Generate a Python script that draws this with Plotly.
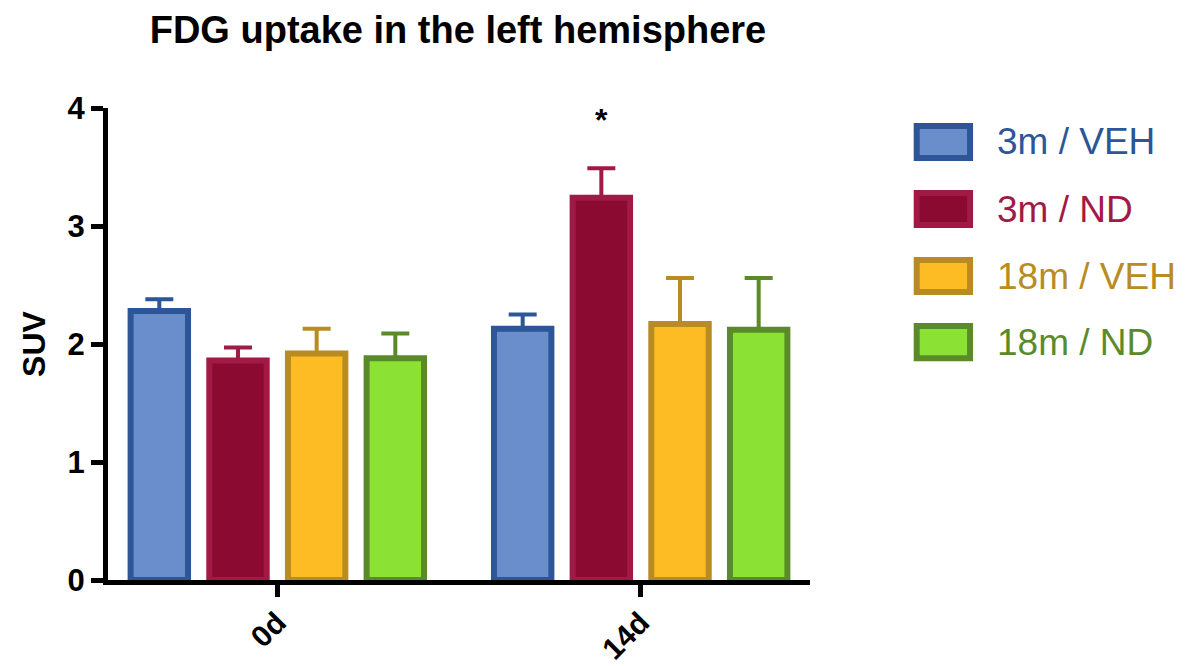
import plotly.graph_objects as go

categories = ["0d", "14d"]
series_names = ["3m / VEH", "3m / ND", "18m / VEH", "18m / ND"]
means = {
    "3m / VEH": [2.28, 2.13],
    "3m / ND": [1.86, 3.24],
    "18m / VEH": [1.92, 2.17],
    "18m / ND": [1.88, 2.12],
}
errors = {
    "3m / VEH": [0.10, 0.12],
    "3m / ND": [0.11, 0.25],
    "18m / VEH": [0.21, 0.39],
    "18m / ND": [0.21, 0.44],
}
fill_colors = ["#6A8DCB", "#8A0A32", "#FDBB24", "#8BE235"]
line_colors = ["#2C5697", "#A01A45", "#B88C22", "#5B8A2B"]
y_ticks = [0, 1, 2, 3, 4]

FONT = "Liberation Sans, Arial, Helvetica, sans-serif"

fig = go.Figure()
for name, fc, lc in zip(series_names, fill_colors, line_colors):
    fig.add_trace(go.Bar(
        x=categories, y=means[name], name=name,
        marker=dict(color=fc, line=dict(color=lc, width=6)),
        error_y=dict(type="data", symmetric=False, array=errors[name],
                     arrayminus=[0] * len(categories),
                     color=lc, thickness=4, width=14),
        showlegend=False,
    ))

# asterisk above 14d / 3m ND
fig.add_annotation(x="14d", y=3.9, xref="x", yref="y", xshift=-39,
                   text="*", showarrow=False,
                   font=dict(family=FONT, size=32, color="black", weight="bold"))

# custom legend
row_y = [0.928, 0.786, 0.644, 0.504]
for name, fc, lc, yy in zip(series_names, fill_colors, line_colors, row_y):
    fig.add_shape(type="rect", xref="paper", yref="paper",
                  x0=1.152, x1=1.228, y0=yy - 0.034, y1=yy + 0.034,
                  fillcolor=fc, line=dict(color=lc, width=6))
    fig.add_annotation(xref="paper", yref="paper", x=1.264, y=yy,
                       xanchor="left", yanchor="middle", text=name,
                       showarrow=False,
                       font=dict(family=FONT, size=37, color=lc))

fig.update_layout(
    width=1192, height=666,
    paper_bgcolor="white", plot_bgcolor="white",
    margin=dict(l=100, r=390, t=100, b=94, autoexpand=False),
    barmode="group", bargap=0.134, bargroupgap=0.27,
    title=dict(text="FDG uptake in the left hemisphere", x=0.3775, xanchor="center",
               y=0.968, yanchor="middle",
               font=dict(family=FONT, size=38, color="black", weight="bold")),
    font=dict(family=FONT),
)
fig.update_xaxes(
    range=[-0.466, 1.466], showline=True, linecolor="black", linewidth=5,
    ticks="outside", ticklen=12, tickwidth=5, tickcolor="black",
    tickangle=-45, showgrid=False, zeroline=False, automargin=False,
    ticklabelstandoff=-4,
    tickfont=dict(family=FONT, size=30, color="black", weight="bold"),
)
fig.update_yaxes(
    range=[0, 4], tickvals=y_ticks, showline=True, linecolor="black", linewidth=5,
    ticks="outside", ticklen=12, tickwidth=5, tickcolor="black",
    showgrid=False, zeroline=False, automargin=False,
    tickfont=dict(family=FONT, size=31, color="black", weight="bold"),
    title=dict(text="SUV", standoff=14,
               font=dict(family=FONT, size=32, color="black", weight="bold")),
)

fig.write_html("out.html")
